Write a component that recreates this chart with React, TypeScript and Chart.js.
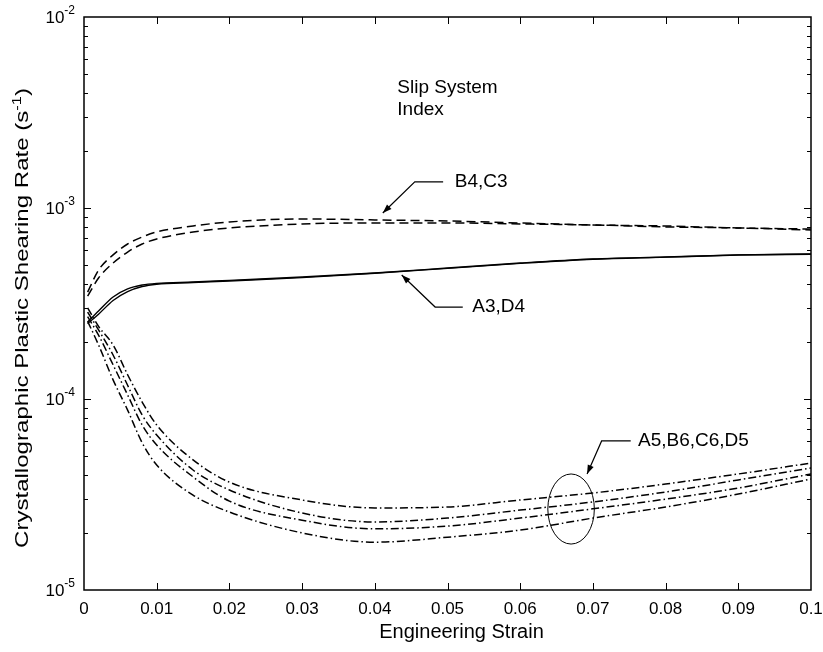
import React, { useEffect, useRef } from "react";
import { Chart, registerables } from "chart.js";

Chart.register(...registerables);

// ---------------- data ----------------
const strain = [0.0005, 0.002, 0.004, 0.006, 0.008, 0.01, 0.015, 0.02, 0.03, 0.04, 0.05, 0.06, 0.07, 0.08, 0.09, 0.1];

// B4, C3 (dashed)
const rateB4 = [3.63e-4, 4.73e-4, 5.68e-4, 6.48e-4, 7.05e-4, 7.49e-4, 8.05e-4, 8.45e-4, 8.76e-4, 8.66e-4, 8.55e-4, 8.35e-4, 8.15e-4, 8.05e-4, 7.86e-4, 7.76e-4];
const rateC3 = [3.46e-4, 4.3e-4, 5.15e-4, 5.88e-4, 6.48e-4, 6.88e-4, 7.49e-4, 7.86e-4, 8.25e-4, 8.35e-4, 8.35e-4, 8.25e-4, 8.15e-4, 7.96e-4, 7.86e-4, 7.67e-4];

// A3, D4 (solid)
const rateA3 = [2.53e-4, 2.89e-4, 3.42e-4, 3.77e-4, 3.95e-4, 4.03e-4, 4.1e-4, 4.18e-4, 4.35e-4, 4.57e-4, 4.85e-4, 5.15e-4, 5.41e-4, 5.54e-4, 5.68e-4, 5.74e-4];
const rateD4 = [2.48e-4, 2.78e-4, 3.28e-4, 3.65e-4, 3.88e-4, 3.99e-4, 4.07e-4, 4.15e-4, 4.32e-4, 4.55e-4, 4.83e-4, 5.13e-4, 5.39e-4, 5.53e-4, 5.67e-4, 5.73e-4];

// A5, B6, C6, D5 (dash-dot)
const rateA5 = [3.0e-4, 2.4e-4, 1.92e-4, 1.34e-4, 9.64e-5, 7.31e-5, 4.8e-5, 3.67e-5, 2.96e-5, 2.69e-5, 2.72e-5, 2.96e-5, 3.22e-5, 3.59e-5, 4.05e-5, 4.62e-5];
const rateB6 = [2.85e-4, 2.3e-4, 1.7e-4, 1.18e-4, 8.24e-5, 6.48e-5, 4.25e-5, 3.34e-5, 2.53e-5, 2.27e-5, 2.38e-5, 2.62e-5, 2.89e-5, 3.26e-5, 3.77e-5, 4.35e-5];
const rateC6 = [2.7e-4, 2.16e-4, 1.51e-4, 1.05e-4, 7.31e-5, 5.74e-5, 3.91e-5, 2.92e-5, 2.32e-5, 2.09e-5, 2.16e-5, 2.38e-5, 2.66e-5, 2.99e-5, 3.42e-5, 4.05e-5];
const rateD5 = [2.55e-4, 1.92e-4, 1.26e-4, 8.75e-5, 5.9e-5, 4.51e-5, 3.14e-5, 2.56e-5, 1.99e-5, 1.78e-5, 1.89e-5, 2.06e-5, 2.38e-5, 2.72e-5, 3.18e-5, 3.81e-5];

const xMin = 0;
const xMax = 0.1;
const xStep = 0.01;
const yMin = 1e-5;
const yMax = 1e-2;
const yDecadeExponents = [-5, -4, -3, -2];

const xTitle = "Engineering Strain";
const yTitleMain = "Crystallographic Plastic Shearing Rate (s";
const yTitleSup = "-1";
const yTitleEnd = ")";

// annotation texts
const headerLines = ["Slip System", "Index"];
const labelB4C3 = "B4,C3";
const labelA3D4 = "A3,D4";
const labelA5D5 = "A5,B6,C6,D5";

// ---------------- styling ----------------
const FONT = "'Liberation Sans', Arial, Helvetica, sans-serif";
const DASHED = [9, 5];
const DASHDOT = [8, 3, 1.5, 3];

function series(values: number[]) {
  return strain.map((x, i) => ({ x, y: values[i] }));
}

const ANN = {
  header: { x: 0.0431, y: [4.25e-3, 3.26e-3] },
  b4c3: { text: { x: 0.051, y: 1.37e-3 }, path: [[0.0494, 1.37e-3], [0.0455, 1.37e-3], [0.0411, 9.42e-4]] },
  a3d4: { text: { x: 0.0534, y: 3.03e-4 }, path: [[0.0521, 3.03e-4], [0.0483, 3.03e-4], [0.0437, 4.46e-4]] },
  a5d5: { text: { x: 0.0762, y: 6.03e-5 }, path: [[0.0752, 6.03e-5], [0.0712, 6.03e-5], [0.0692, 4.05e-5]] },
  ellipse: { cx: 0.067, rx: 0.0032, yTop: 4.05e-5, yBottom: 1.74e-5 },
};

const frameAndTicks = {
  id: "frameAndTicks",
  afterDatasetsDraw(chart: any) {
    const { ctx, chartArea: a, scales } = chart;
    const xs = scales.x;
    const ys = scales.y;
    ctx.save();
    ctx.strokeStyle = "#000";
    ctx.lineWidth = 1;
    ctx.setLineDash([]);
    ctx.beginPath();
    for (let v = xMin + xStep; v < xMax - xStep / 2; v += xStep) {
      const px = Math.round(xs.getPixelForValue(v)) + 0.5;
      ctx.moveTo(px, a.bottom);
      ctx.lineTo(px, a.bottom - 7);
      ctx.moveTo(px, a.top);
      ctx.lineTo(px, a.top + 7);
    }
    for (let e = -5; e <= -3; e++) {
      for (let m = 1; m <= 9; m++) {
        const v = m * Math.pow(10, e);
        if (v <= yMin || v >= yMax) continue;
        const py = Math.round(ys.getPixelForValue(v)) + 0.5;
        const len = m === 1 ? 7 : 4;
        ctx.moveTo(a.left, py);
        ctx.lineTo(a.left + len, py);
        ctx.moveTo(a.right, py);
        ctx.lineTo(a.right - len, py);
      }
    }
    ctx.stroke();
    ctx.lineWidth = 1.5;
    ctx.strokeRect(a.left, a.top, a.right - a.left, a.bottom - a.top);
    ctx.restore();
  },
};

function arrowPath(ctx: any, pts: number[][]) {
  ctx.beginPath();
  ctx.moveTo(pts[0][0], pts[0][1]);
  for (let i = 1; i < pts.length; i++) ctx.lineTo(pts[i][0], pts[i][1]);
  ctx.stroke();
  const [x1, y1] = pts[pts.length - 2];
  const [x2, y2] = pts[pts.length - 1];
  const ang = Math.atan2(y2 - y1, x2 - x1);
  const L = 9;
  const W = 3.2;
  ctx.beginPath();
  ctx.moveTo(x2, y2);
  ctx.lineTo(x2 - L * Math.cos(ang) + W * Math.sin(ang), y2 - L * Math.sin(ang) - W * Math.cos(ang));
  ctx.lineTo(x2 - L * Math.cos(ang) - W * Math.sin(ang), y2 - L * Math.sin(ang) + W * Math.cos(ang));
  ctx.closePath();
  ctx.fill();
}

const texts = {
  id: "texts",
  afterDraw(chart: any) {
    const { ctx, scales, chartArea: a } = chart;
    const X = (v: number) => scales.x.getPixelForValue(v);
    const Y = (v: number) => scales.y.getPixelForValue(v);
    ctx.save();
    ctx.fillStyle = "#000";
    ctx.strokeStyle = "#000";
    ctx.setLineDash([]);

    // y decade labels: 10 with superscript exponent
    ctx.textBaseline = "middle";
    ctx.textAlign = "left";
    yDecadeExponents.forEach((e) => {
      const py = Y(Math.pow(10, e));
      const base = "10";
      const ex = String(e);
      ctx.font = `12px ${FONT}`;
      const we = ctx.measureText(ex).width;
      ctx.font = `17px ${FONT}`;
      const wb = ctx.measureText(base).width;
      const right = a.left - 9;
      ctx.fillText(base, right - we - wb, py + 1);
      ctx.font = `12px ${FONT}`;
      ctx.fillText(ex, right - we, py - 6);
    });

    // x title
    ctx.font = `20px ${FONT}`;
    ctx.textAlign = "center";
    ctx.fillText(xTitle, (a.left + a.right) / 2 + 14, 632);

    // y title (rotated)
    ctx.save();
    ctx.translate(23, 318);
    ctx.rotate(-Math.PI / 2);
    ctx.font = `19px ${FONT}`;
    const w1 = ctx.measureText(yTitleMain).width;
    const w3 = ctx.measureText(yTitleEnd).width;
    ctx.font = `13px ${FONT}`;
    const w2 = ctx.measureText(yTitleSup).width;
    const total = w1 + w2 + w3;
    const k = 460 / total;
    ctx.scale(k, 1);
    ctx.textAlign = "left";
    let cx = -total / 2;
    ctx.font = `19px ${FONT}`;
    ctx.fillText(yTitleMain, cx, 0);
    cx += w1;
    ctx.font = `13px ${FONT}`;
    ctx.fillText(yTitleSup, cx, -6);
    cx += w2;
    ctx.font = `19px ${FONT}`;
    ctx.fillText(yTitleEnd, cx, 0);
    ctx.restore();

    // annotations
    ctx.font = `19px ${FONT}`;
    ctx.textAlign = "left";
    ctx.lineWidth = 1.2;
    headerLines.forEach((t, i) => ctx.fillText(t, X(ANN.header.x), Y(ANN.header.y[i])));
    const groups: [string, any][] = [
      [labelB4C3, ANN.b4c3],
      [labelA3D4, ANN.a3d4],
      [labelA5D5, ANN.a5d5],
    ];
    groups.forEach(([t, g]) => {
      ctx.fillText(t, X(g.text.x), Y(g.text.y));
      arrowPath(ctx, g.path.map((p: number[]) => [X(p[0]), Y(p[1])]));
    });

    const el = ANN.ellipse;
    const ex0 = X(el.cx);
    const rx = X(el.cx + el.rx) - ex0;
    const yt = Y(el.yTop);
    const yb = Y(el.yBottom);
    ctx.lineWidth = 1;
    ctx.beginPath();
    ctx.ellipse(ex0, (yt + yb) / 2, rx, (yb - yt) / 2, 0, 0, Math.PI * 2);
    ctx.stroke();
    ctx.restore();
  },
};

export default function App() {
  const ref = useRef<HTMLCanvasElement | null>(null);

  useEffect(() => {
    if (!ref.current) return;
    const line = (label: string, values: number[], dash: number[], width = 1.5) => ({
      label,
      data: series(values),
      borderColor: "#000",
      backgroundColor: "#000",
      borderWidth: width,
      borderDash: dash,
      pointRadius: 0,
      fill: false,
      cubicInterpolationMode: "monotone" as const,
    });

    const chart = new Chart(ref.current, {
      type: "line",
      data: {
        datasets: [
          line("B4", rateB4, DASHED),
          line("C3", rateC3, DASHED),
          line("A3", rateA3, [], 1.4),
          line("D4", rateD4, [], 1.4),
          line("A5", rateA5, DASHDOT),
          line("B6", rateB6, DASHDOT),
          line("C6", rateC6, DASHDOT),
          line("D5", rateD5, DASHDOT),
        ],
      },
      options: {
        responsive: false,
        animation: false,
        events: [],
        layout: { padding: { top: 17, right: 0, left: 0, bottom: 0 } },
        plugins: { legend: { display: false }, tooltip: { enabled: false } },
        scales: {
          x: {
            type: "linear",
            min: xMin,
            max: xMax,
            grid: { display: false, drawTicks: false },
            border: { display: false },
            ticks: {
              stepSize: xStep,
              color: "#000",
              font: { family: FONT, size: 17 },
              padding: 9,
              maxRotation: 0,
              autoSkip: false,
              callback: (v: any) => String(Number(Number(v).toFixed(3))),
            },
            title: { display: false, text: xTitle },
            afterFit: (s: any) => {
              s.height = 62;
              s.paddingRight = 12;
              s.paddingLeft = 0;
            },
          },
          y: {
            type: "logarithmic",
            min: yMin,
            max: yMax,
            grid: { display: false, drawTicks: false },
            border: { display: false },
            ticks: { display: false },
            title: { display: false, text: yTitleMain + yTitleSup + yTitleEnd },
            afterFit: (s: any) => {
              s.width = 84;
              s.paddingTop = 0;
              s.paddingBottom = 0;
            },
          },
        },
      },
      plugins: [frameAndTicks, texts],
    });
    return () => chart.destroy();
  }, []);

  return (
    <div style={{ position: "absolute", left: 0, top: 0, width: 823, height: 652, background: "#fff" }}>
      <canvas ref={ref} width={823} height={652} />
    </div>
  );
}
